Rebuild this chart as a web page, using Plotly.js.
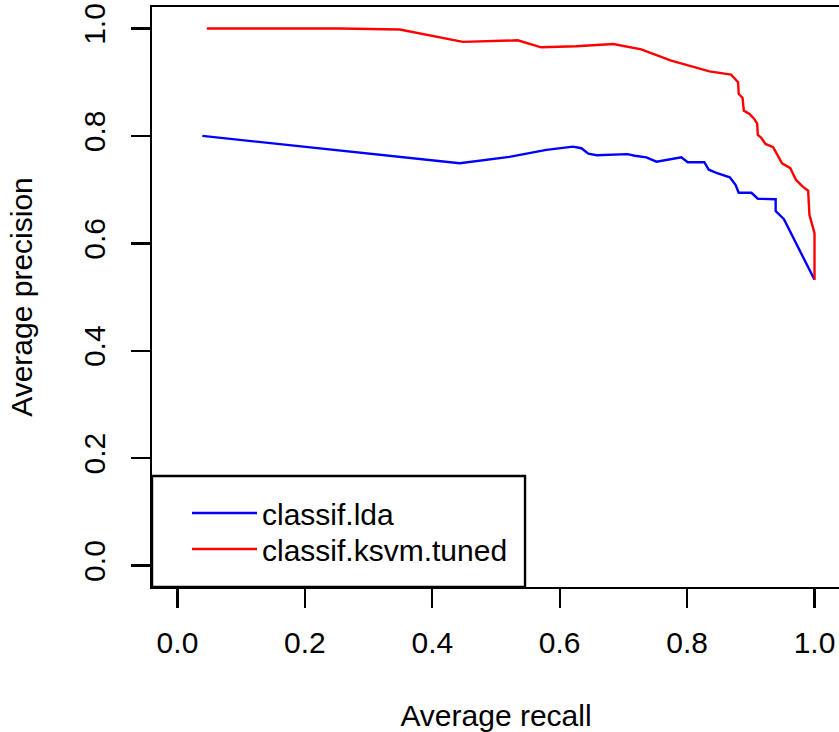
<!DOCTYPE html>
<html>
<head>
<meta charset="utf-8">
<script src="https://cdn.plot.ly/plotly-3.0.1.min.js"></script>
<style>
html, body { margin: 0; padding: 0; width: 839px; height: 732px; overflow: hidden; background: #fff; }
#chart { width: 842px; height: 732px; }
</style>
</head>
<body>
<div id="chart"></div>
<script>
// Data
const seriesNames = ["classif.lda", "classif.ksvm.tuned"];
const seriesColors = ["#0000FF", "#FF0000"];

const ldaRecall = [0.039, 0.443, 0.521, 0.579, 0.621, 0.634, 0.645, 0.658, 0.706, 0.718, 0.736, 0.752, 0.791, 0.801, 0.827, 0.834, 0.846, 0.867, 0.876, 0.881, 0.901, 0.911, 0.939, 0.939, 0.952, 1.0];
const ldaPrecision = [0.800, 0.749, 0.761, 0.774, 0.780, 0.777, 0.767, 0.764, 0.766, 0.763, 0.760, 0.752, 0.760, 0.751, 0.751, 0.737, 0.731, 0.723, 0.709, 0.694, 0.694, 0.683, 0.682, 0.660, 0.645, 0.532];

const ksvmRecall = [0.046, 0.255, 0.349, 0.448, 0.534, 0.571, 0.626, 0.684, 0.728, 0.775, 0.835, 0.869, 0.880, 0.881, 0.887, 0.889, 0.898, 0.905, 0.910, 0.911, 0.916, 0.923, 0.935, 0.949, 0.962, 0.971, 0.982, 0.990, 0.992, 1.0, 1.0];
const ksvmPrecision = [1.000, 1.000, 0.998, 0.975, 0.978, 0.965, 0.967, 0.971, 0.961, 0.940, 0.920, 0.914, 0.900, 0.878, 0.871, 0.847, 0.841, 0.832, 0.823, 0.802, 0.797, 0.785, 0.779, 0.749, 0.740, 0.718, 0.705, 0.698, 0.653, 0.619, 0.532];

const tickValues = [0, 0.2, 0.4, 0.6, 0.8, 1.0];
const tickLabels = ["0.0", "0.2", "0.4", "0.6", "0.8", "1.0"];

const xTitle = "Average recall";
const yTitle = "Average precision";

const FONT = "Liberation Sans, Arial, Helvetica, sans-serif";
const FS = 30;
const LW = 2.4;

const traces = [
  { x: ldaRecall, y: ldaPrecision, name: seriesNames[0], type: "scatter", mode: "lines",
    line: { color: seriesColors[0], width: LW }, legend: "legend" },
  { x: ksvmRecall, y: ksvmPrecision, name: seriesNames[1], type: "scatter", mode: "lines",
    line: { color: seriesColors[1], width: LW }, legend: "legend2" }
];

const axisCommon = {
  range: [-0.04, 1.04],
  tickmode: "array",
  tickvals: tickValues,
  ticktext: tickLabels,
  ticks: "outside",
  ticklen: 19,
  tickwidth: LW,
  tickcolor: "#000",
  showline: true,
  linecolor: "#000",
  linewidth: LW,
  mirror: true,
  showgrid: false,
  zeroline: false,
  tickfont: { family: FONT, size: FS, color: "#000" },
  automargin: false
};

const legendCommon = {
  x: 0.0509, xanchor: "left",
  yanchor: "top",
  bgcolor: "rgba(0,0,0,0)",
  borderwidth: 0,
  itemwidth: 65,
  font: { family: FONT, size: FS, color: "#000" }
};

const layout = {
  width: 842,
  height: 732,
  margin: { l: 152, r: 2, t: 7, b: 145, pad: 0 },
  paper_bgcolor: "#fff",
  plot_bgcolor: "#fff",
  font: { family: FONT, size: FS, color: "#000" },
  xaxis: Object.assign({}, axisCommon, {
    ticklabelstandoff: 9,
    title: { text: xTitle, font: { family: FONT, size: FS, color: "#000" }, standoff: 48 }
  }),
  yaxis: Object.assign({}, axisCommon, {
    tickangle: -90,
    ticklabelstandoff: 14,
    title: { text: yTitle, font: { family: FONT, size: FS, color: "#000" }, standoff: 36 }
  }),
  showlegend: true,
  legend: Object.assign({}, legendCommon, { y: 0.1724 }),
  legend2: Object.assign({}, legendCommon, { y: 0.1103 }),
  shapes: [
    { type: "rect", xref: "paper", yref: "paper", x0: 0, x1: 0.5422, y0: 0, y1: 0.1914,
      line: { color: "#000", width: LW }, fillcolor: "#fff", layer: "below" }
  ]
};

Plotly.newPlot("chart", traces, layout, { displayModeBar: false, staticPlot: true });
</script>
</body>
</html>
